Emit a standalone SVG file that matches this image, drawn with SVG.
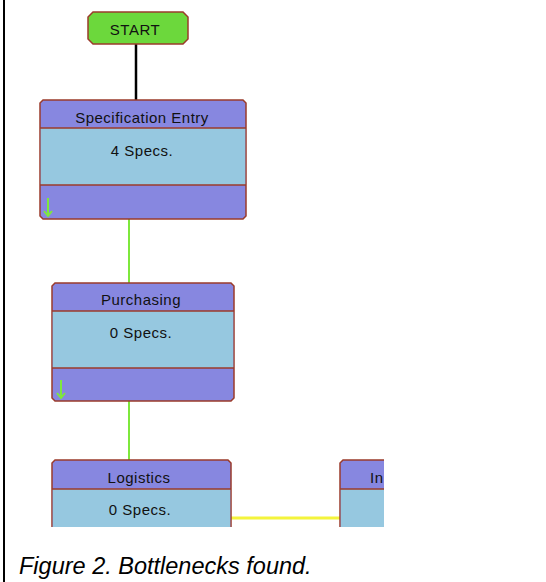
<svg xmlns="http://www.w3.org/2000/svg" width="546" height="582" viewBox="0 0 546 582">
<defs>
<style>
.frame{fill:#8787e0;stroke:#9b3b2b;stroke-width:1.5}
.mid{fill:#96c8e0}
.div{stroke:#9b3b2b;stroke-width:1.5}
.t{font-family:"Liberation Sans",Arial,sans-serif;font-size:15px;letter-spacing:0.5px;fill:#111;text-anchor:middle}
.green{stroke:#7ee83c;stroke-width:2;fill:none}
</style>
<clipPath id="area"><rect x="0" y="0" width="384" height="527"/></clipPath>
</defs>
<rect width="546" height="582" fill="#fff"/>
<line x1="4" y1="0" x2="4" y2="582" stroke="#000" stroke-width="2"/>
<g clip-path="url(#area)">
<g id="connectors">
<line x1="136" y1="44" x2="136" y2="100" stroke="#000" stroke-width="2.5"/>
<line x1="129" y1="219" x2="129" y2="283" class="green"/>
<line x1="129" y1="401" x2="129" y2="461" class="green"/>
<line x1="231" y1="518" x2="340" y2="518" stroke="#f4f43c" stroke-width="3"/>
</g>
<g id="start">
<polygon points="93,12 183,12 188,17 188,39 183,44 93,44 88,39 88,17" fill="#6cd83c" stroke="#9b3b2b" stroke-width="1.5"/>
<text x="135" y="35" class="t">START</text>
</g>
<g id="spec-entry">
<path d="M43,100 H243 L246,103 V216 L243,219 H43 L40,216 V103 Z" class="frame"/>
<rect x="40.75" y="128" width="204.5" height="57" class="mid"/>
<line x1="40" y1="128" x2="246" y2="128" class="div"/>
<line x1="40" y1="185" x2="246" y2="185" class="div"/>
<text x="142" y="123" class="t">Specification Entry</text>
<text x="142" y="156" class="t">4 Specs.</text>
<path d="M48,198 V216 M44,211 L48,216 L52,211" class="green"/>
</g>
<g id="purchasing">
<path d="M55,283 H231 L234,286 V398 L231,401 H55 L52,398 V286 Z" class="frame"/>
<rect x="52.75" y="311" width="180.5" height="57" class="mid"/>
<line x1="52" y1="311" x2="234" y2="311" class="div"/>
<line x1="52" y1="368" x2="234" y2="368" class="div"/>
<text x="141" y="305" class="t">Purchasing</text>
<text x="141" y="338" class="t">0 Specs.</text>
<path d="M61,380 V398 M57,393 L61,398 L65,393" class="green"/>
</g>
<g id="logistics">
<path d="M55,460 H228 L231,463 V540 H52 V463 Z" class="frame"/>
<rect x="52.75" y="489" width="177.5" height="51" class="mid"/>
<line x1="52" y1="489" x2="231" y2="489" class="div"/>
<text x="139" y="483" class="t">Logistics</text>
<text x="140" y="515" class="t">0 Specs.</text>
</g>
<g id="in-node">
<path d="M343,460 H440 V540 H340 V463 Z" class="frame"/>
<rect x="340.75" y="489" width="100" height="51" class="mid"/>
<line x1="340" y1="489" x2="440" y2="489" class="div"/>
<text x="370" y="483" class="t" style="text-anchor:start">In</text>
</g>
</g>
<text x="19" y="574" font-family="'Liberation Sans',Arial,sans-serif" font-size="23.5" font-style="italic" fill="#000">Figure 2. Bottlenecks found.</text>
</svg>
